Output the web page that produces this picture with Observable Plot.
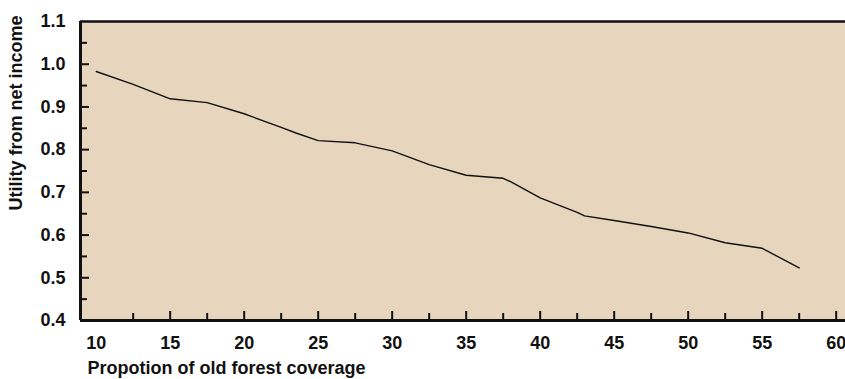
<!DOCTYPE html>
<html>
<head>
<meta charset="utf-8">
<script src="https://cdn.jsdelivr.net/npm/d3@7"></script>
<script src="https://cdn.jsdelivr.net/npm/@observablehq/plot@0.6"></script>
<style>
  html, body { margin: 0; padding: 0; background: #ffffff; }
</style>
</head>
<body>
<div id="chart"></div>
<script>
// Data
const coverage = [10, 12.5, 15, 17.5, 20, 22.5, 23.5, 25, 27.5, 30, 32.5, 35, 37.5, 38, 40, 42.5, 43, 45, 47.5, 50, 52.5, 55, 57.5];
const utility  = [0.983, 0.953, 0.919, 0.910, 0.884, 0.852, 0.839, 0.821, 0.816, 0.797, 0.765, 0.740, 0.733, 0.725, 0.687, 0.653, 0.645, 0.634, 0.620, 0.605, 0.582, 0.569, 0.523];

const xLabelTicks = [10, 15, 20, 25, 30, 35, 40, 45, 50, 55, 60];
const xMajorTicks = [15, 20, 25, 30, 35, 40, 45, 50, 55, 60];
const xMinorTicks = [12.5, 17.5, 22.5, 27.5, 32.5, 37.5, 42.5, 47.5, 52.5, 57.5];
const yLabelTicks = [0.4, 0.5, 0.6, 0.7, 0.8, 0.9, 1.0, 1.1];
const yMajorTicks = [0.5, 0.6, 0.7, 0.8, 0.9, 1.0];
const yMinorTicks = [0.45, 0.55, 0.65, 0.75, 0.85, 0.95, 1.05];

const xTitle = "Propotion of old forest coverage";
const yTitle = "Utility from net income";

const data = coverage.map((c, i) => ({x: c, y: utility[i]}));

const W = 845, H = 379;
const mL = 80, mR = 0, mT = 21, mB = 59;
const plotW = W - mL - mR, plotH = H - mT - mB;

const chart = Plot.plot({
  width: W,
  height: H,
  marginLeft: mL,
  marginRight: mR,
  marginTop: mT,
  marginBottom: mB,
  style: {
    fontFamily: "'Liberation Sans', Arial, sans-serif",
    fontSize: "18px",
    fontWeight: "bold",
    color: "#111",
    background: "#ffffff",
    overflow: "visible"
  },
  x: {domain: [8.94, 60.63]},
  y: {domain: [0.4, 1.1]},
  marks: [
    Plot.frame({fill: "#e8d5bd", stroke: null}),
    // ticks (inward)
    Plot.ruleX(xMajorTicks, {x: d => d, insetTop: plotH - 9, stroke: "#111", strokeWidth: 2}),
    Plot.ruleX(xMinorTicks, {x: d => d, insetTop: plotH - 7, stroke: "#111", strokeWidth: 2}),
    Plot.ruleY(yMajorTicks, {y: d => d, insetRight: plotW - 9, stroke: "#111", strokeWidth: 2}),
    Plot.ruleY(yMinorTicks, {y: d => d, insetRight: plotW - 7, stroke: "#111", strokeWidth: 2}),
    // axis lines / top border
    Plot.ruleY([1.1], {stroke: "#111", strokeWidth: 2.5}),
    Plot.ruleY([0.4], {stroke: "#111", strokeWidth: 3}),
    Plot.ruleX([8.94], {stroke: "#111", strokeWidth: 3}),
    // tick labels
    Plot.axisX(xLabelTicks, {tickSize: 0, tickPadding: 16, tickFormat: d => String(d), label: null, fill: "#111", fontSize: 18}),
    Plot.axisY(yLabelTicks, {tickSize: 0, tickPadding: 15, tickFormat: d => d.toFixed(1), label: null, fill: "#111", fontSize: 18}),
    // the data line
    Plot.line(data, {x: "x", y: "y", stroke: "#111", strokeWidth: 1.4}),
    // axis titles
    Plot.text([xTitle], {frameAnchor: "bottom-left", dx: 7, dy: 53, textAnchor: "start", lineAnchor: "bottom", fill: "#111", fontSize: 18}),
    Plot.text([yTitle], {frameAnchor: "left", dx: -64, dy: -58, rotate: -90, textAnchor: "middle", lineAnchor: "middle", fill: "#111", fontSize: 18})
  ]
});

document.getElementById("chart").appendChild(chart);
</script>
</body>
</html>
